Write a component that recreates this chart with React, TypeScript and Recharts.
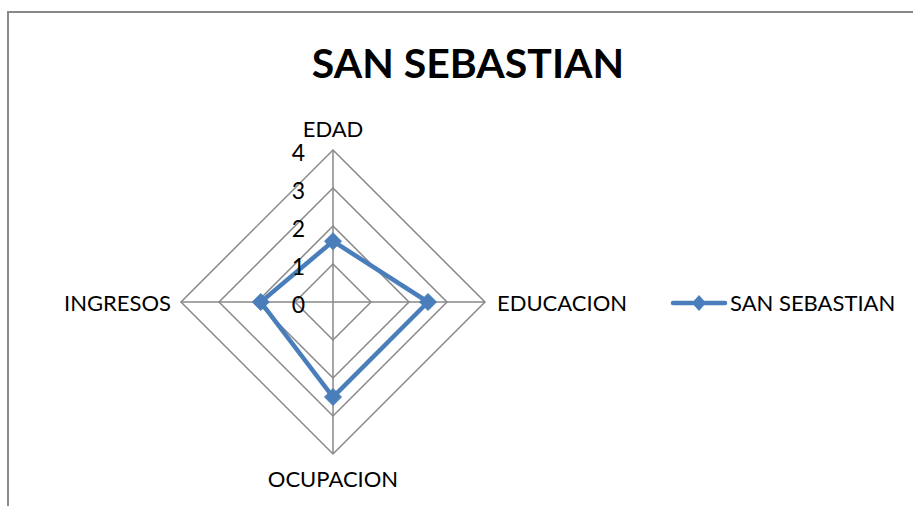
import React from 'react';
import { RadarChart, PolarGrid, PolarAngleAxis, PolarRadiusAxis, Radar, Legend } from 'recharts';

const categories = ['EDAD', 'EDUCACION', 'OCUPACION', 'INGRESOS'];
const seriesName = 'SAN SEBASTIAN';
const seriesValues = [1.6, 2.5, 2.5, 1.9];
const radiusTicks = [0, 1, 2, 3, 4];
const chartTitle = 'SAN SEBASTIAN';

const data = categories.map((c, i) => ({ subject: c, value: seriesValues[i] }));

const FONT = 'Lato, "Open Sans", sans-serif';
const BLUE = '#4A7EBB';
const GRID = '#898989';

const Diamond = (props: any) => {
  const { cx, cy } = props;
  if (cx == null || cy == null) return null;
  const h = 8.5;
  return (
    <polygon
      points={`${cx},${cy - h} ${cx + h},${cy} ${cx},${cy + h} ${cx - h},${cy}`}
      fill={BLUE}
      stroke={BLUE}
    />
  );
};

const AngleTick = (props: any) => {
  const { x, y, payload, cx, cy } = props;
  const dx = x - cx;
  const dy = y - cy;
  let anchor = 'middle';
  let tx = x;
  let ty = y;
  if (Math.abs(dx) < 1) {
    if (dy < 0) ty = y - 14; else ty = y + 16;
  } else if (dx > 0) {
    anchor = 'start';
    tx = x + 4;
  } else {
    anchor = 'end';
    tx = x - 2;
  }
  return (
    <text x={tx} y={ty} textAnchor={anchor} dominantBaseline="central" fill="#000" fontSize={22} fontFamily={FONT}>
      {payload.value}
    </text>
  );
};

const RadiusTick = (props: any) => {
  const { x, y, payload } = props;
  return (
    <text x={x - 28} y={y + 2} textAnchor="end" dominantBaseline="central" fill="#000" fontSize={23} fontFamily={FONT}>
      {payload.value}
    </text>
  );
};

const LegendContent = () => (
  <div style={{ display: 'flex', alignItems: 'center', fontFamily: FONT, fontSize: 22, color: '#000', whiteSpace: 'nowrap' }}>
    <svg width={58} height={24} style={{ display: 'block' }}>
      <line x1={3} y1={12} x2={55} y2={12} stroke={BLUE} strokeWidth={4.5} strokeLinecap="round" />
      <polygon points="29,4 36,12 29,20 22,12" fill={BLUE} />
    </svg>
    <span style={{ marginLeft: 2 }}>{seriesName}</span>
  </div>
);

export default function App() {
  return (
    <div style={{ position: 'fixed', left: 0, top: 0, width: 913, height: 506, overflow: 'hidden', background: '#fff' }}>
      <div style={{ position: 'absolute', left: 7, top: 11, width: 1000, height: 1000, borderLeft: `2px solid ${GRID}`, borderTop: `2px solid ${GRID}` }} />
      <div style={{ position: 'absolute', left: 0, top: 37, width: 936, textAlign: 'center', fontFamily: FONT, fontWeight: 700, fontSize: 41, color: '#000', lineHeight: '52px' }}>
        {chartTitle}
      </div>
      <div style={{ position: 'absolute', left: 0, top: 0 }}>
        <RadarChart width={913} height={506} data={data} cx={333} cy={302} outerRadius={152} margin={{ top: 0, right: 0, bottom: 0, left: 0 }}>
          <PolarGrid gridType="polygon" stroke={GRID} strokeWidth={1.5} />
          <PolarAngleAxis dataKey="subject" tick={<AngleTick />} tickLine={false} axisLine={false} />
          <PolarRadiusAxis angle={90} domain={[0, 4]} ticks={radiusTicks as any} tickCount={5} axisLine={false} tickLine={false} tick={<RadiusTick />} />
          <Radar name={seriesName} dataKey="value" stroke={BLUE} strokeWidth={4.5} fill="none" fillOpacity={0} dot={<Diamond />} isAnimationActive={false} />
          <Legend layout="vertical" align="right" verticalAlign="top" content={<LegendContent />} wrapperStyle={{ left: 670, top: 289, right: 'auto', width: 240 }} />
        </RadarChart>
      </div>
    </div>
  );
}
